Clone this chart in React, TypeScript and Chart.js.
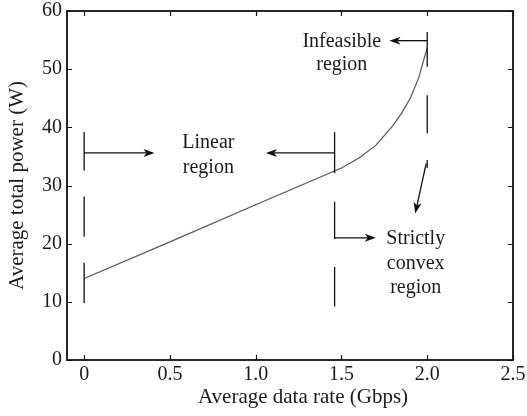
import React, { useEffect, useRef } from 'react';
import { Chart, registerables } from 'chart.js';

Chart.register(...registerables);

// ---- data ----
const rateGbps = [0, 0.5, 1.0, 1.5, 1.6, 1.7, 1.8, 1.85, 1.9, 1.95, 2.0];
const powerW = [14.0, 20.3, 26.7, 33.0, 34.7, 36.9, 40.3, 42.4, 44.9, 48.5, 53.7];
const xTickValues = [0, 0.5, 1.0, 1.5, 2.0, 2.5];
const yTickValues = [0, 10, 20, 30, 40, 50, 60];
const xTitle = 'Average data rate (Gbps)';
const yTitle = 'Average total power (W)';

// region boundaries (data units): x position and dashed segments [yTop, yBottom]
const boundaryX = [0, 1.46, 2.0];
const boundarySegments = [
  [[39.2, 32.6], [28.1, 21.2], [16.7, 9.8]],
  [[39.2, 32.1], [27.2, 20.8], [16.0, 9.2]],
  [[56.4, 50.4], [45.5, 39.0], [34.4, 33.0]],
];
// arrows (data units): [xFrom, yFrom, xTo, yTo]
const arrowList = [
  [0, 35.6, 0.41, 35.6],
  [1.46, 35.6, 1.06, 35.6],
  [1.46, 21.0, 1.70, 21.0],
  [2.0, 54.9, 1.78, 54.9],
  [1.994, 33.8, 1.93, 25.2],
];
// annotation text (data units, baseline position)
const noteText = ['Linear', 'region', 'Infeasible', 'region', 'Strictly', 'convex', 'region'];
const noteX = [0.724, 0.724, 1.502, 1.502, 1.933, 1.933, 1.933];
const noteY = [36.4, 32.1, 53.8, 49.8, 19.9, 15.6, 11.6];

const FONT = "'Liberation Serif', 'Times New Roman', serif";

function drawArrow(ctx: CanvasRenderingContext2D, x1: number, y1: number, x2: number, y2: number) {
  const ang = Math.atan2(y2 - y1, x2 - x1);
  const c = Math.cos(ang), s = Math.sin(ang);
  const L = 11, W = 4, notch = 8;
  ctx.beginPath();
  ctx.moveTo(x1, y1);
  ctx.lineTo(x2 - c * notch, y2 - s * notch);
  ctx.stroke();
  ctx.beginPath();
  ctx.moveTo(x2, y2);
  ctx.lineTo(x2 - c * L - s * W, y2 - s * L + c * W);
  ctx.lineTo(x2 - c * notch, y2 - s * notch);
  ctx.lineTo(x2 - c * L + s * W, y2 - s * L - c * W);
  ctx.closePath();
  ctx.fill();
}

const overlayPlugin = {
  id: 'overlay',
  afterDatasetsDraw(chart: any) {
    const ctx: CanvasRenderingContext2D = chart.ctx;
    const xs = chart.scales.x;
    const ys = chart.scales.y;
    const a = chart.chartArea;
    ctx.save();
    // frame
    ctx.strokeStyle = '#111';
    ctx.lineWidth = 1.8;
    ctx.strokeRect(a.left, a.top, a.right - a.left, a.bottom - a.top);
    // inward ticks on all sides
    const tl = 5;
    ctx.lineWidth = 1.2;
    ctx.beginPath();
    xTickValues.forEach((v) => {
      const px = Math.round(xs.getPixelForValue(v)) + 0.5;
      ctx.moveTo(px, a.bottom); ctx.lineTo(px, a.bottom - tl);
      ctx.moveTo(px, a.top); ctx.lineTo(px, a.top + tl);
    });
    yTickValues.forEach((v) => {
      const py = Math.round(ys.getPixelForValue(v)) + 0.5;
      ctx.moveTo(a.left, py); ctx.lineTo(a.left + tl, py);
      ctx.moveTo(a.right, py); ctx.lineTo(a.right - tl, py);
    });
    ctx.stroke();
    // boundary dashed lines
    ctx.strokeStyle = '#111';
    ctx.lineWidth = 1.3;
    boundaryX.forEach((bx, i) => {
      const px = xs.getPixelForValue(bx);
      ctx.beginPath();
      boundarySegments[i].forEach(([t, b]) => {
        ctx.moveTo(px, ys.getPixelForValue(t));
        ctx.lineTo(px, ys.getPixelForValue(b));
      });
      ctx.stroke();
    });
    // arrows
    ctx.fillStyle = '#111';
    ctx.lineWidth = 1.3;
    arrowList.forEach(([xa, ya, xb, yb]) => {
      drawArrow(ctx, xs.getPixelForValue(xa), ys.getPixelForValue(ya), xs.getPixelForValue(xb), ys.getPixelForValue(yb));
    });
    // text
    ctx.fillStyle = '#1a1a1a';
    ctx.font = `20px ${FONT}`;
    ctx.textAlign = 'center';
    ctx.textBaseline = 'alphabetic';
    noteText.forEach((t, i) => {
      ctx.fillText(t, xs.getPixelForValue(noteX[i]), ys.getPixelForValue(noteY[i]));
    });
    // x axis title (slightly right of centre, as in the original)
    ctx.font = `21px ${FONT}`;
    ctx.textBaseline = 'middle';
    ctx.fillText(xTitle, (a.left + a.right) / 2 + 13, 397);
    ctx.restore();
  },
};

export default function App() {
  const ref = useRef<HTMLCanvasElement | null>(null);
  useEffect(() => {
    if (!ref.current) return;
    const chart = new Chart(ref.current, {
      type: 'scatter',
      data: {
        datasets: [
          {
            data: rateGbps.map((x, i) => ({ x, y: powerW[i] })),
            showLine: true,
            borderColor: '#555',
            borderWidth: 1.2,
            pointRadius: 0,
            tension: 0,
          },
        ],
      },
      options: {
        animation: false,
        responsive: false,
        devicePixelRatio: 1,
        layout: { padding: { top: 11, right: 14, left: 0, bottom: 0 } },
        plugins: { legend: { display: false }, tooltip: { enabled: false } },
        scales: {
          x: {
            type: 'linear',
            min: -0.1,
            max: 2.5,
            afterBuildTicks: (s: any) => { s.ticks = xTickValues.map((v) => ({ value: v })); },
            afterFit: (s: any) => { s.height = 56; s.paddingLeft = 0; s.paddingRight = 0; },
            grid: { display: false, drawTicks: false },
            border: { display: false },
            ticks: {
              font: { family: FONT, size: 20 },
              color: '#1a1a1a',
              padding: 3,
              maxRotation: 0,
              autoSkip: false,
              callback: (v: any) => (v === 0 ? '0' : Number(v).toFixed(1)),
            },
            title: { display: false },
          },
          y: {
            type: 'linear',
            min: 0,
            max: 60,
            afterBuildTicks: (s: any) => { s.ticks = yTickValues.map((v) => ({ value: v })); },
            afterFit: (s: any) => { s.width = 67; s.paddingTop = 0; s.paddingBottom = 0; },
            grid: { display: false, drawTicks: false },
            border: { display: false },
            ticks: {
              font: { family: FONT, size: 20 },
              color: '#1a1a1a',
              padding: 5,
              autoSkip: false,
              callback: (v: any) => String(v),
            },
            title: {
              display: true,
              text: yTitle,
              color: '#1a1a1a',
              font: { family: FONT, size: 21 },
              padding: { top: 5, bottom: 0 },
            },
          },
        },
      },
      plugins: [overlayPlugin],
    } as any);
    return () => chart.destroy();
  }, []);
  return (
    <div style={{ position: 'fixed', left: 0, top: 0, width: 527, height: 416, background: '#fff' }}>
      <canvas ref={ref} width={527} height={416} style={{ width: 527, height: 416, display: 'block' }} />
    </div>
  );
}
